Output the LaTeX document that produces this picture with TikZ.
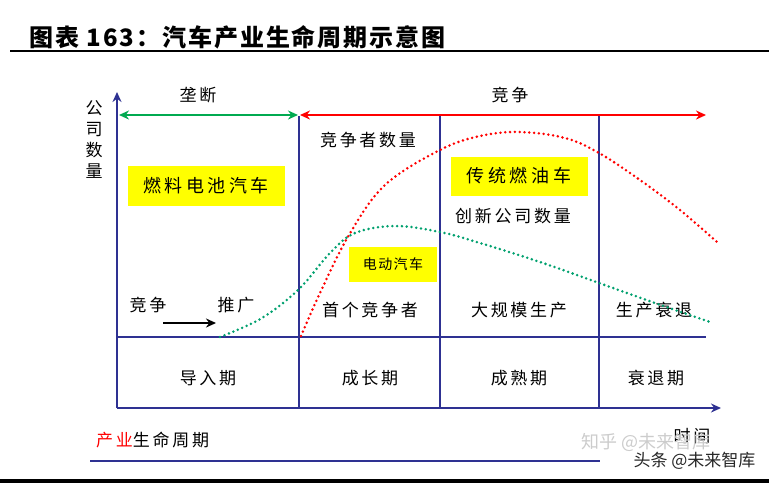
\documentclass[tikz,border=0pt]{standalone}
\usepackage{fontspec}
\setmainfont{Noto Sans CJK SC}
\usepackage{tikz}
\usetikzlibrary{arrows.meta}

\definecolor{axisblue}{RGB}{46,49,146}
\definecolor{mongreen}{RGB}{0,170,80}
\definecolor{evgreen}{RGB}{0,160,110}
\definecolor{boxyellow}{RGB}{255,255,0}

\begin{document}
\begin{tikzpicture}[
    x=1pt, y=-1pt,
    >={Stealth[length=10pt, width=9pt]},
    lbl/.style={inner sep=1pt, font=\fontsize{17}{20}\selectfont\addfontfeature{LetterSpace=16}},
    ybox/.style={lbl, fill=boxyellow, inner sep=0pt},
    axis/.style={draw=axisblue, line width=2.6pt},
    period/.style={axisblue, line width=2.6pt},
    trend/.style={line width=2.8pt, line cap=round, dash pattern=on 0pt off 4.8pt, smooth, tension=0.6}
]
\useasboundingbox (0,0) rectangle (769,483);

\node[anchor=west, font=\fontsize{24}{26}\selectfont\bfseries\addfontfeature{LetterSpace=8}] (title) at (26,37) {图表 163：汽车产业生命周期示意图};
\draw[line width=2.8pt] (10,51) -- (769,51);
\draw[line width=4pt] (0,481) -- (769,481);
\draw[axisblue, line width=1.8pt] (90,461) -- (600,461);

\coordinate (O) at (117,408);
\coordinate (ytop) at (117,92);
\coordinate (xend) at (721,408);
\draw[axis, ->] (O) -- (ytop);
\draw[axis, ->] (O) -- (xend);

\coordinate (m0) at (117,337);
\coordinate (m1) at (706,337);
\draw[period] (m0) -- (m1);

\foreach \x/\n in {299/a, 440/b, 599/c} {
    \coordinate (\n t) at (\x,116);
    \coordinate (\n b) at (\x,408);
    \draw[period] (\n t) -- (\n b);
}

\coordinate (g0) at (119,115);
\coordinate (g1) at (298,115);
\coordinate (r0) at (300,115);
\coordinate (r1) at (706,115);
\draw[mongreen, line width=2.8pt, <->] (g0) -- (g1);
\draw[red, line width=2.8pt, <->] (r0) -- (r1);

\node[lbl] (mono) at (198,95) {垄断};
\node[lbl] (comp) at (510,95) {竞争};
\node[lbl, align=center, font=\fontsize{17}{21}\selectfont] (ylab) at (94,140) {公\\司\\数\\量};

\node[ybox, minimum width=157pt, minimum height=40pt, font=\fontsize{18}{20}\selectfont\addfontfeature{LetterSpace=20}] (fuel) at (206,186) {燃料电池汽车};
\node[ybox, minimum width=137pt, minimum height=39pt, font=\fontsize{18}{20}\selectfont\addfontfeature{LetterSpace=20}] (ice) at (519,176) {传统燃油车};
\node[ybox, minimum width=88pt, minimum height=35pt, font=\fontsize{14}{16}\selectfont\addfontfeature{LetterSpace=10}] (ev) at (393,264) {电动汽车};

\node[lbl] (ncomp) at (368,140) {竞争者数量};
\node[lbl] (nnew) at (513,216) {创新公司数量};

\node[lbl] (jz) at (148,305) {竞争};
\node[lbl] (tg) at (236,305) {推广};
\coordinate (p0) at (163,323);
\coordinate (p1) at (216,323);
\draw[line width=2.4pt, ->] (p0) -- (p1);

\node[lbl] (first) at (370,310) {首个竞争者};
\node[lbl] (mass) at (519,310) {大规模生产};
\node[lbl] (decl) at (654,310) {生产衰退};

\node[lbl] (intro) at (208,378) {导入期};
\node[lbl] (grow) at (370,378) {成长期};
\node[lbl] (mat) at (519,378) {成熟期};
\node[lbl] (fall) at (656,378) {衰退期};

\node[lbl, anchor=west] (cycle) at (95,440) {\textcolor{red}{产业}生命周期};
\node[lbl] (time) at (692,436) {时间};

\draw[trend, evgreen] plot coordinates {(220,337) (262,318) (299,289) (330,253) (355,233) (395,226) (440,232) (480,243) (540,262) (599,283) (655,303) (710,322)};
\draw[trend, red] plot coordinates {(301,336) (320,293) (349,235) (385,185) (440,150) (480,136) (520,132) (565,138) (599,153) (640,180) (680,210) (717,242)};

\node[font=\fontsize{18}{20}\selectfont, text=black!20, anchor=west] (zh) at (578,442) {知乎 @未来智库};
\node[font=\fontsize{17}{20}\selectfont, text=black!85, anchor=west] (tt) at (630,461) {头条 @未来智库};
\end{tikzpicture}
\end{document}
